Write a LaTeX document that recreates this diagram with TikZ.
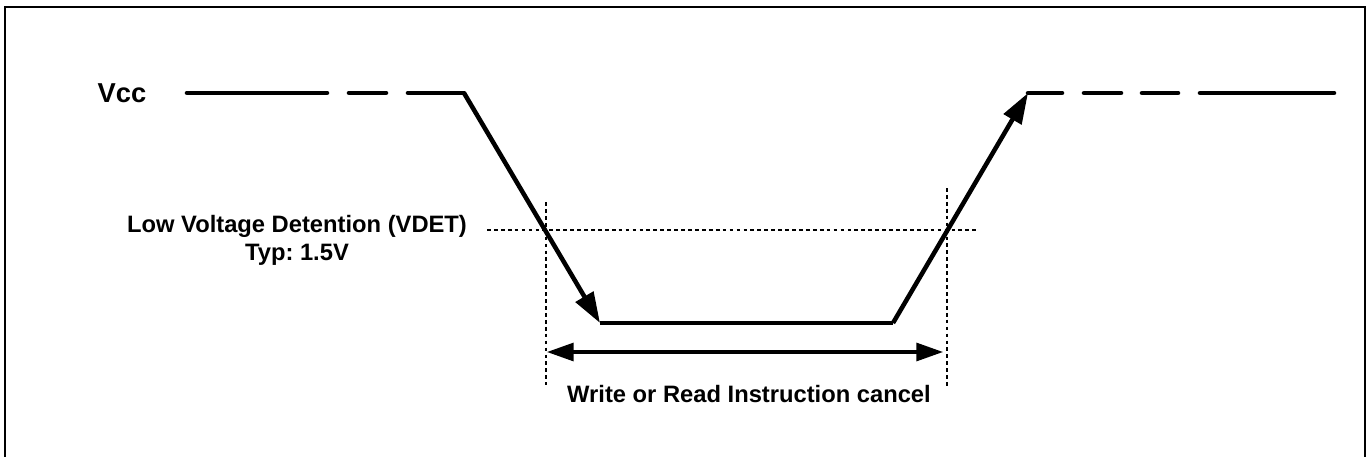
\documentclass[tikz,border=0pt]{standalone}
\usepackage{fontspec}
\setmainfont{Liberation Sans}
\usetikzlibrary{arrows.meta}
\frenchspacing
\begin{document}
\begin{tikzpicture}[x=0.75pt,y=-0.75pt,
  frameline/.style={line width=1.6pt},
  sig/.style={line width=3.4pt,line cap=round,line join=miter},
  sigarrow/.style={line width=3.4pt,-{Triangle[length=23pt,width=15pt]}},
  dotline/.style={line width=2.1pt,dash pattern=on 2.8pt off 2.4pt},
  dimarrow/.style={line width=2.3pt,{Triangle[length=20pt,width=13.5pt]}-{Triangle[length=20pt,width=13.5pt]}},
  lbl/.style={font=\bfseries\fontsize{17.8pt}{21pt}\selectfont,inner sep=0pt,align=center}]
\useasboundingbox (0,0) rectangle (1368,457);
\fill[white] (0,0) rectangle (1368,457);
% frame
\draw[frameline] (5,457) -- (5,7) -- (1365,7) -- (1365,457);
% coordinates
\coordinate (a0) at (187,93);
\coordinate (a1) at (327,93);
\coordinate (a2) at (349,93);
\coordinate (a3) at (386,93);
\coordinate (a4) at (408,93);
\coordinate (top1) at (464,93);
\coordinate (bot1) at (600,323);
\coordinate (bot2) at (893,323);
\coordinate (top2) at (1028,93);
\coordinate (b1) at (1062,93);
\coordinate (b2) at (1084,93);
\coordinate (b3) at (1121,93);
\coordinate (b4) at (1142,93);
\coordinate (b5) at (1178,93);
\coordinate (b6) at (1200,93);
\coordinate (b7) at (1334,93);
% labels
\node[lbl,font=\bfseries\fontsize{20.5pt}{23pt}\selectfont] (vcc) at (122,93) {Vcc};
\node[lbl] (vdet) at (297,240) {Low Voltage Detention (VDET)\\Typ: 1.5V};
\node[lbl] (cancel) at (749,394) {Write or Read Instruction cancel};
% signal
\draw[sig] (a0) -- (a1);
\draw[sig] (a2) -- (a3);
\draw[sig] (a4) -- (top1);
\draw[sigarrow] (top1) -- (bot1);
\draw[sig,line cap=butt] (bot1) -- (bot2);
\draw[sigarrow] (bot2) -- (top2);
\draw[sig] (top2) -- (b1);
\draw[sig] (b2) -- (b3);
\draw[sig] (b4) -- (b5);
\draw[sig] (b6) -- (b7);
% threshold and markers
\coordinate (h0) at (487,230);
\coordinate (h1) at (978,230);
\coordinate (l0) at (546,202);
\coordinate (l1) at (546,385);
\coordinate (r0) at (947,188);
\coordinate (r1) at (947,386);
\draw[dotline] (h0) -- (h1);
\draw[dotline] (l0) -- (l1);
\draw[dotline] (r0) -- (r1);
\coordinate (d0) at (547,352);
\coordinate (d1) at (943,352);
\draw[dimarrow] (d0) -- (d1);
\end{tikzpicture}
\end{document}
